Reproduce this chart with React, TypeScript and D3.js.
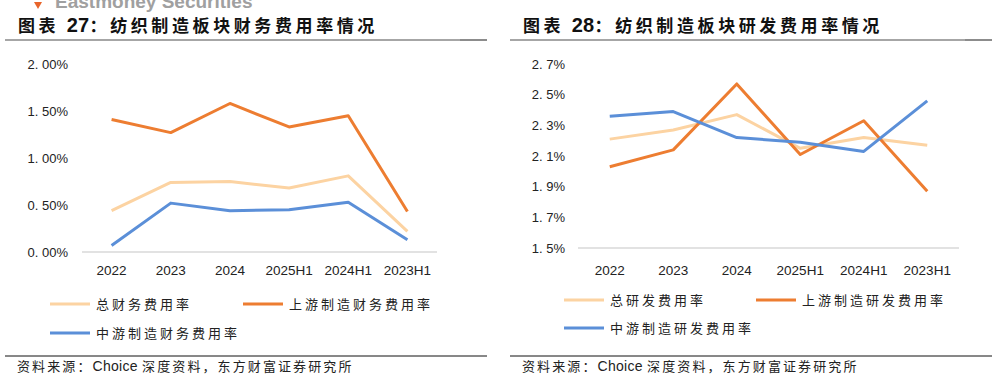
import React from "react";
import * as d3 from "d3";

const categories = ["2022", "2023", "2024", "2025H1", "2024H1", "2023H1"];

// Chart 27: financial expense ratio (%)
const finTotal = [0.44, 0.74, 0.75, 0.68, 0.81, 0.22];
const finUp = [1.41, 1.27, 1.58, 1.33, 1.45, 0.43];
const finMid = [0.07, 0.52, 0.44, 0.45, 0.53, 0.13];
const finTicks = [0, 0.5, 1.0, 1.5, 2.0];

// Chart 28: R&D expense ratio (%)
const rdTotal = [2.21, 2.27, 2.37, 2.15, 2.22, 2.17];
const rdUp = [2.03, 2.14, 2.57, 2.11, 2.33, 1.87];
const rdMid = [2.36, 2.39, 2.22, 2.19, 2.13, 2.46];
const rdTicks = [1.5, 1.7, 1.9, 2.1, 2.3, 2.5, 2.7];

const finNames = ["总财务费用率", "上游制造财务费用率", "中游制造财务费用率"];
const rdNames = ["总研发费用率", "上游制造研发费用率", "中游制造研发费用率"];

const COLORS = ["#FCD3A2", "#ED7D31", "#5B8FD8"];
const CJK = "'Noto Sans CJK SC', 'Noto Sans', sans-serif";
const LAT = "'Liberation Sans', Arial, sans-serif";

type PanelProps = {
  x0: number;
  num: string;
  title: string;
  series: number[][];
  names: string[];
  ticks: number[];
  domain: [number, number];
  xRange: [number, number];
  yRange: [number, number];
  fmt: (v: number) => string;
  labelX: number;
  legend: { lineX: number[]; rowY: number[] };
};

function Panel(p: PanelProps) {
  const x = d3.scaleBand<string>().domain(categories).range(p.xRange);
  const y = d3.scaleLinear().domain(p.domain).range(p.yRange);
  const line = d3
    .line<number>()
    .x((_, i) => (x(categories[i]) as number) + x.bandwidth() / 2)
    .y((d) => y(d));
  const drawOrder = [0, 1, 2];
  const legendPos = [
    { lx: p.legend.lineX[0], ly: p.legend.rowY[0] },
    { lx: p.legend.lineX[1], ly: p.legend.rowY[0] },
    { lx: p.legend.lineX[0], ly: p.legend.rowY[1] },
  ];
  return (
    <g>
      <text
        x={p.x0 + 13}
        y={32}
        fontFamily={CJK}
        fontWeight="bold"
        fontSize={17}
        letterSpacing={3.6}
        fill="#111"
      >
        图表 <tspan fontFamily={LAT} fontSize={20} letterSpacing={0.3}>{p.num}</tspan>：{p.title}
      </text>
      <line x1={p.x0} x2={p.x0 + 482} y1={40} y2={40} stroke="#a6a6a6" strokeWidth={2} />
      <line x1={p.x0 + 455} x2={p.x0 + 482} y1={40} y2={40} stroke="#8c8c8c" strokeWidth={2} />
      {/* axis */}
      <line
        x1={p.xRange[0]}
        x2={p.xRange[1]}
        y1={y(p.domain[0])}
        y2={y(p.domain[0])}
        stroke="#d9d9d9"
        strokeWidth={1.5}
      />
      {p.ticks.map((t) => (
        <text
          key={t}
          x={p.labelX}
          y={y(t) + 4.5}
          textAnchor="end"
          fontFamily={LAT}
          fontSize={13}
          fill="#222"
        >
          {p.fmt(t)}
        </text>
      ))}
      {categories.map((c) => (
        <text
          key={c}
          x={(x(c) as number) + x.bandwidth() / 2}
          y={275}
          textAnchor="middle"
          fontFamily={LAT}
          fontSize={13.5}
          fill="#222"
        >
          {c}
        </text>
      ))}
      {drawOrder.map((i) => (
        <path
          key={i}
          d={line(p.series[i]) as string}
          fill="none"
          stroke={COLORS[i]}
          strokeWidth={3}
          strokeLinejoin="round"
        />
      ))}
      {p.names.map((n, i) => (
        <g key={n}>
          <line
            x1={legendPos[i].lx}
            x2={legendPos[i].lx + 40}
            y1={legendPos[i].ly}
            y2={legendPos[i].ly}
            stroke={COLORS[i]}
            strokeWidth={3}
          />
          <text
            x={legendPos[i].lx + 46}
            y={legendPos[i].ly + 4.5}
            fontFamily={CJK}
            fontSize={13}
            letterSpacing={3}
            fill="#222"
          >
            {n}
          </text>
        </g>
      ))}
      <line x1={p.x0} x2={p.x0 + 482} y1={356} y2={356} stroke="#111" strokeWidth={1} />
      <text
        x={p.x0 + 12}
        y={371}
        fontFamily={CJK}
        fontSize={13}
        letterSpacing={2.1}
        fill="#222"
      >
        资料来源：<tspan fontFamily={LAT} fontSize={14} letterSpacing={0.3}>Choice </tspan>深度资料，东方财富证券研究所
      </text>
    </g>
  );
}

export default function App() {
  return (
    <svg
      width={997}
      height={380}
      style={{ position: "absolute", left: 0, top: 0, background: "#fff" }}
    >
      <rect width={997} height={380} fill="#fff" />
      <path d="M34,2 L42,2 L38,9 Z" fill="#E8652B" />
      <text x={55} y={8} fontFamily={LAT} fontWeight="bold" fontSize={19} fill="#a0a0a0">
        Eastmoney Securities
      </text>
      <Panel
        x0={5}
        num="27"
        title="纺织制造板块财务费用率情况"
        series={[finTotal, finUp, finMid]}
        names={finNames}
        ticks={finTicks}
        domain={[0, 2]}
        xRange={[82, 437]}
        yRange={[252, 64]}
        fmt={(v) => v.toFixed(2).replace(".", ". ") + "%"}
        labelX={68}
        legend={{ lineX: [50, 243], rowY: [304, 333] }}
      />
      <Panel
        x0={510}
        num="28"
        title="纺织制造板块研发费用率情况"
        series={[rdTotal, rdUp, rdMid]}
        names={rdNames}
        ticks={rdTicks}
        domain={[1.5, 2.7]}
        xRange={[578, 959]}
        yRange={[248, 64]}
        fmt={(v) => v.toFixed(1).replace(".", ". ") + "%"}
        labelX={565}
        legend={{ lineX: [564, 756], rowY: [300, 328] }}
      />
    </svg>
  );
}
